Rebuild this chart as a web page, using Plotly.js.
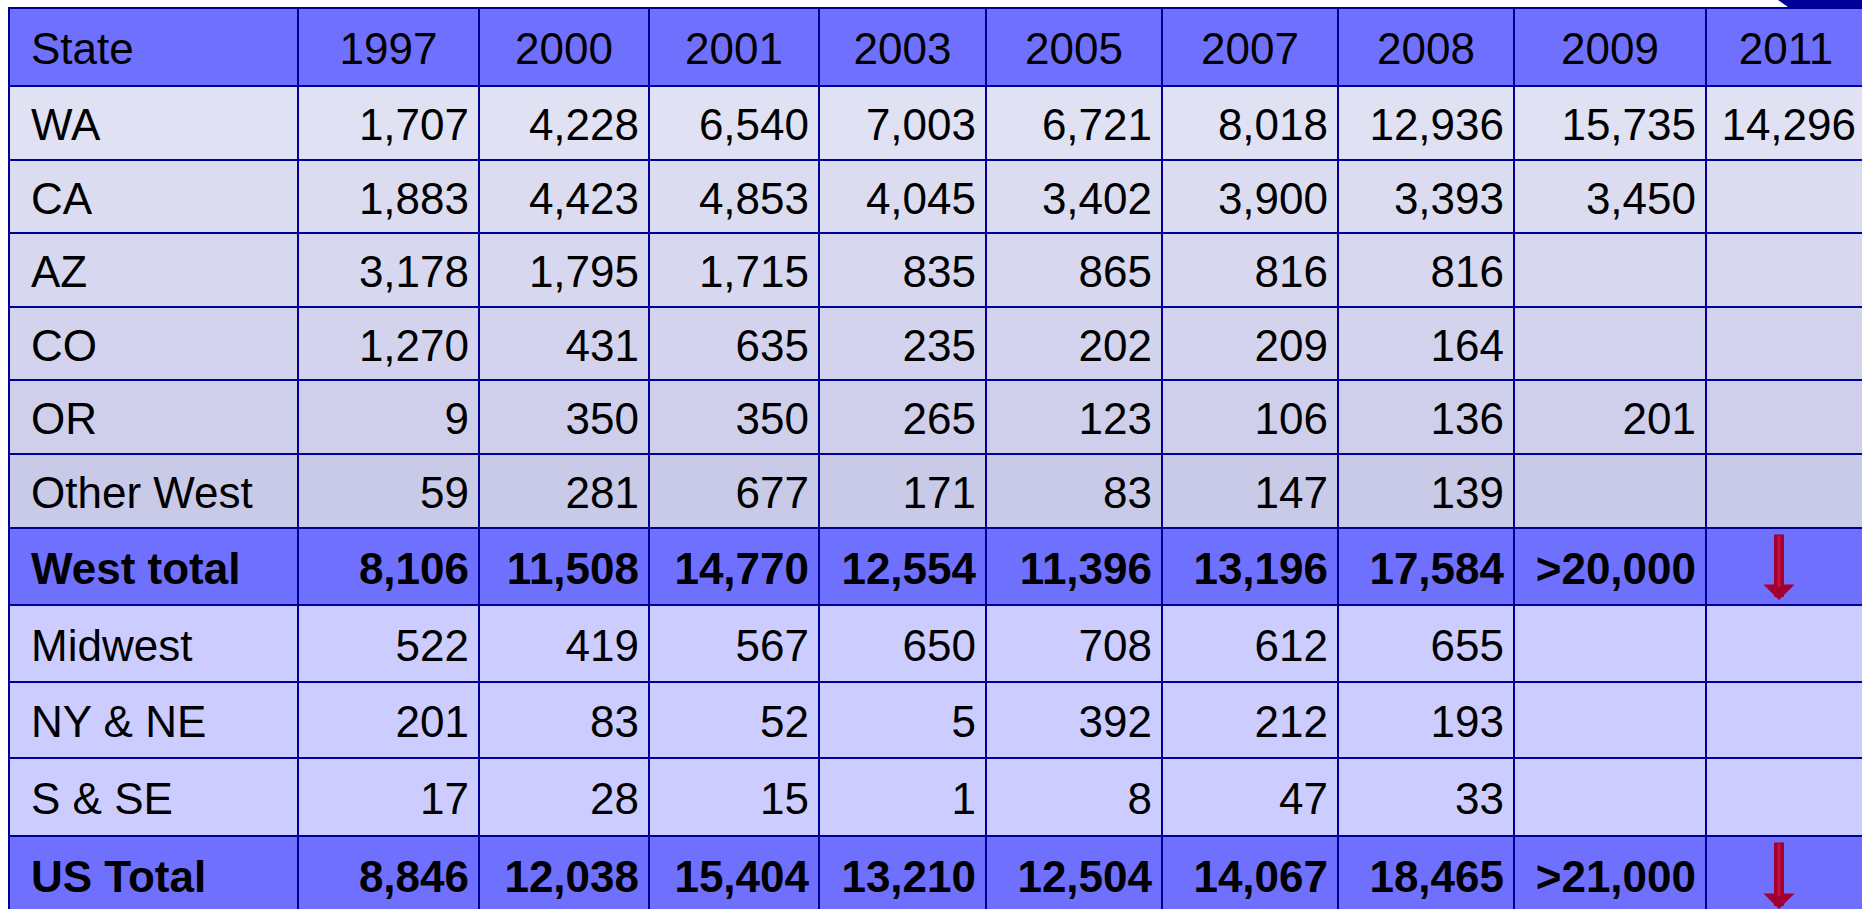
<!DOCTYPE html>
<html><head><meta charset="utf-8">
<script src="https://cdn.plot.ly/plotly-3.0.1.min.js"></script>
<style>html,body{margin:0;padding:0;overflow:hidden;background:#fff}#chart{width:1862px;height:909px}</style>
</head><body><div id="chart"></div>
<script>
// ---------- data ----------
const headerLabel = 'State';
const states = ['WA','CA','AZ','CO','OR','Other West','West total','Midwest','NY & NE','S & SE','US Total'];
const years  = ['1997','2000','2001','2003','2005','2007','2008','2009','2011'];
const v1997 = [1707,1883,3178,1270,9,59,8106,522,201,17,8846];
const v2000 = [4228,4423,1795,431,350,281,11508,419,83,28,12038];
const v2001 = [6540,4853,1715,635,350,677,14770,567,52,15,15404];
const v2003 = [7003,4045,835,235,265,171,12554,650,5,1,13210];
const v2005 = [6721,3402,865,202,123,83,11396,708,392,8,12504];
const v2007 = [8018,3900,816,209,106,147,13196,612,212,47,14067];
const v2008 = [12936,3393,816,164,136,139,17584,655,193,33,18465];
const v2009 = [15735,3450,null,null,201,null,'>20,000',null,null,null,'>21,000'];
const v2011 = [14296,null,null,null,null,null,'DOWN',null,null,null,'DOWN'];
const columns = [v1997,v2000,v2001,v2003,v2005,v2007,v2008,v2009,v2011];

// ---------- style ----------
const W = 1862, H = 909;
const tableLeft = 9, tableTop = 8;
const colWidths  = [289,181,170,170,167,176,176,176,192,160];
const rowHeights = [78,74,73,74,73,74,74,77,77,76,78,78];
const fills = ['#7070FF','#E1E1F4','#DCDCF1','#D7D7EF','#D3D3EE','#CFCFEC','#C9C9E8','#7070FF','#CCCCFF','#CCCCFF','#CCCCFF','#7070FF'];
const lineColor = '#000099';
const fontFam = 'Liberation Sans, Arial, sans-serif';
const fontSize = 44;
const padL = 22, padR = 10, textDy = 6;
const arrowColor = '#A3002F', arrowHi = '#C8103F', arrowDx = -7;

// ---------- geometry from style ----------
const xEdges = [tableLeft]; colWidths.forEach(w => xEdges.push(xEdges[xEdges.length-1] + w));
const yEdges = [tableTop];  rowHeights.forEach(h => yEdges.push(yEdges[yEdges.length-1] + h));
const nRows = states.length + 1, nCols = years.length + 1;
const rowMid = r => (yEdges[r] + yEdges[r+1]) / 2 + textDy;
const colMid = c => (xEdges[c] + xEdges[c+1]) / 2;

function fmt(v){
  if (v === null || v === undefined || v === 'DOWN') return '';
  if (typeof v === 'number') return v.toLocaleString('en-US');
  return v;
}
const isBold = s => /total/i.test(s);

// heatmap cells
const z = [];
for (let r = 0; r < nRows; r++){ const row = []; for (let c = 0; c < nCols; c++) row.push(r); z.push(row); }
const colorscale = fills.map((f,i) => [i/(fills.length-1), f]);

const traces = [{
  type:'heatmap', x:xEdges, y:yEdges, z:z, colorscale:colorscale, zmin:0, zmax:fills.length-1,
  showscale:false, xgap:2, ygap:2, hoverinfo:'skip', zsmooth:false
}];

const tf = {family:fontFam,size:fontSize,color:'#000'};
// header texts
traces.push({type:'scatter', mode:'text', x:[tableLeft+padL], y:[rowMid(0)], text:[headerLabel],
  textposition:'middle right', textfont:tf, hoverinfo:'skip', cliponaxis:false});
traces.push({type:'scatter', mode:'text', x:years.map((y,i)=>colMid(i+1)), y:years.map(()=>rowMid(0)), text:years,
  textposition:'middle center', textfont:tf, hoverinfo:'skip', cliponaxis:false});

// first column
traces.push({type:'scatter', mode:'text', x:states.map(()=>tableLeft+padL), y:states.map((s,i)=>rowMid(i+1)),
  text:states.map(s => isBold(s) ? '<b>'+s+'</b>' : s),
  textposition:'middle right', textfont:tf, hoverinfo:'skip', cliponaxis:false});

// numeric cells
const nx=[], ny=[], nt=[];
const annotations = [];
columns.forEach((col, ci) => {
  col.forEach((v, ri) => {
    const c = ci + 1, r = ri + 1;
    if (v === 'DOWN'){
      const base = {x:colMid(c)+arrowDx, y:yEdges[r+1]-5, xref:'x', yref:'y', text:'', showarrow:true,
        ax:0, ay:-(rowHeights[r]-10), arrowhead:1};
      annotations.push(Object.assign({}, base, {arrowsize:0.52, arrowwidth:10, arrowcolor:arrowColor}));
      annotations.push(Object.assign({}, base, {y:yEdges[r+1]-18, ay:-(rowHeights[r]-24), arrowhead:0, arrowwidth:3, arrowcolor:arrowHi}));
      return;
    }
    const t = fmt(v);
    if (!t) return;
    nx.push(xEdges[c+1]-padR); ny.push(rowMid(r));
    nt.push(isBold(states[ri]) ? '<b>'+t+'</b>' : t);
  });
});
traces.push({type:'scatter', mode:'text', x:nx, y:ny, text:nt, textposition:'middle left',
  textfont:tf, hoverinfo:'skip', cliponaxis:false});

// layout
const mL = tableLeft - 1, mT = tableTop - 1;
const px = x => (x - mL) / (W - mL);
const py = y => (H - y) / (H - mT);
const layout = {
  width:W, height:H, margin:{l:mL, r:0, t:mT, b:0, pad:0},
  paper_bgcolor:'#FFFFFF', plot_bgcolor:lineColor, showlegend:false, hovermode:false,
  xaxis:{range:[mL, W], visible:false, fixedrange:true},
  yaxis:{range:[H, mT], visible:false, fixedrange:true},
  annotations:annotations,
  shapes:[{type:'path', xref:'paper', yref:'paper', layer:'above', line:{width:0}, fillcolor:lineColor,
    path:`M${px(1778)},${py(0)} L${px(1870)},${py(0)} L${px(1870)},${py(7)} L${px(1788)},${py(7)} Z`}]
};
Plotly.newPlot('chart', traces, layout, {displayModeBar:false, staticPlot:true});
</script></body></html>
